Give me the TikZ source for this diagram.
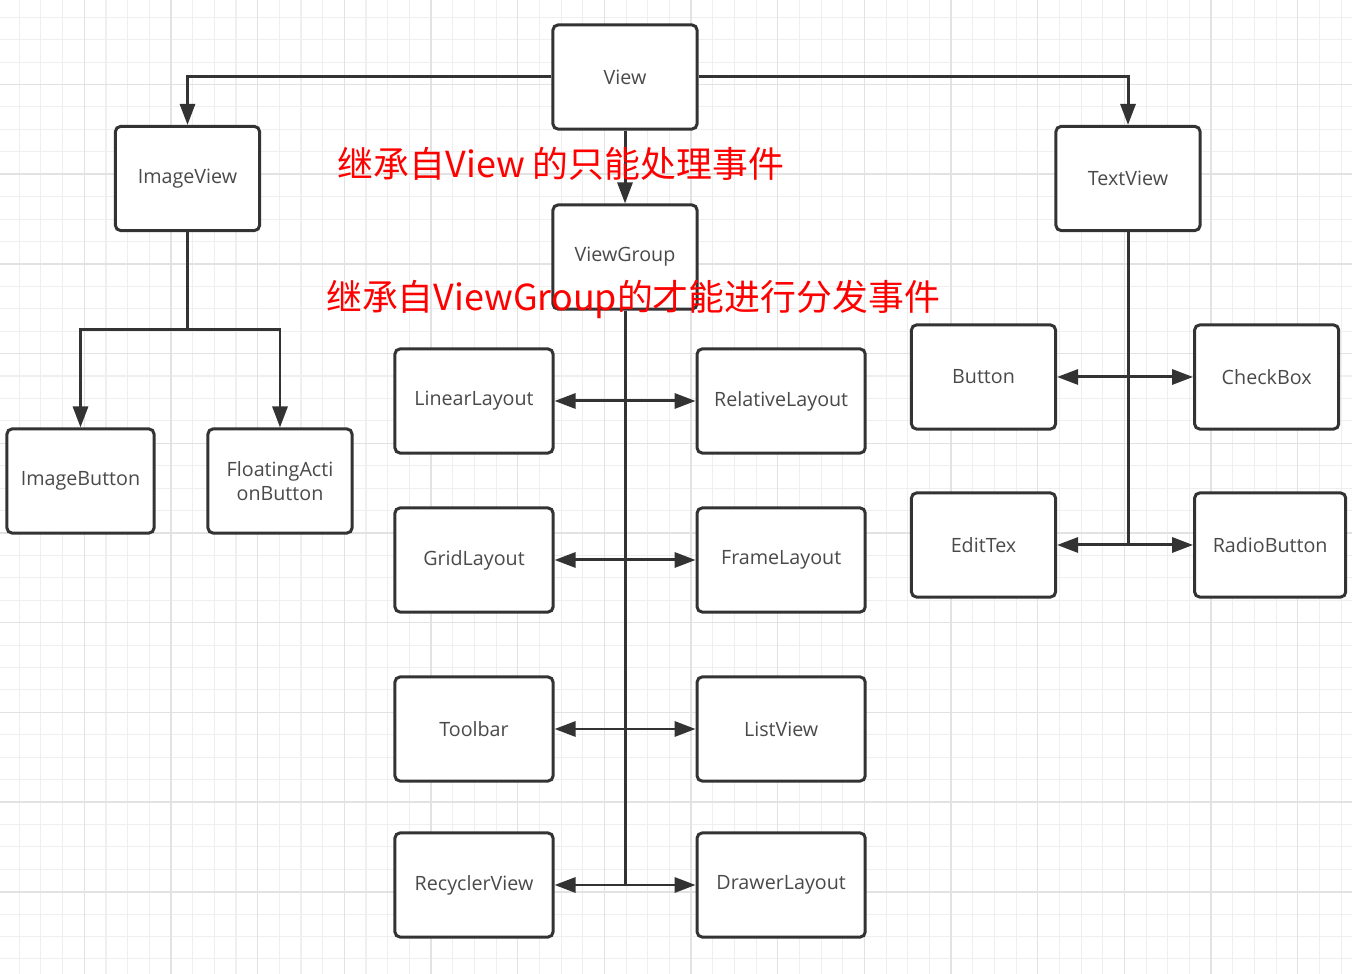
\documentclass[tikz,border=0pt]{standalone}
\usepackage{fontspec}
\setmainfont{Open Sans}
\newfontfamily\cjk{Noto Sans CJK SC}
\usetikzlibrary{arrows.meta,positioning}
\definecolor{edgegray}{HTML}{333333}
\definecolor{txtgray}{HTML}{4A4A4A}
\definecolor{gridmin}{HTML}{EFEFEF}
\definecolor{gridmaj}{HTML}{E2E2E2}
\tikzset{
    %Define standard arrow tip
    >={Triangle[length=2.1mm,width=1.5mm]},
    %Define style for boxes
    clbox/.style={
           rectangle, rounded corners=0.5mm,
           draw = edgegray, line width=0.85pt, fill=white,
           text = txtgray, align=center,
           font=\fontsize{5.6}{6.8}\selectfont,
           minimum height = 1.04cm, minimum width = 1.44cm,
           inner sep=0pt},
    wide/.style={minimum width = 1.58cm},
    wider/.style={minimum width = 1.68cm},
    % Define arrow style
    inh/.style={
           ->, draw=edgegray, line width=0.85pt},
    dbl/.style={
           <->, draw=edgegray, line width=0.85pt},
    trunk/.style={
           draw=edgegray, line width=0.85pt},
    hint/.style={
           text=red, inner sep=0pt,
           font=\cjk\fontsize{10.2}{12}\selectfont}
}
\begin{document}
\begin{tikzpicture}[x=0.01cm, y=-0.01cm]
\useasboundingbox (0,0) rectangle (1352,974);
\fill[white] (0,0) rectangle (1352,974);
 %grid
\foreach \i in {0,...,61}
    \draw[gridmin, line width=0.3pt] ({19.3+21.67*\i},0) -- ++(0,974);
\foreach \i in {0,...,42}
    \draw[gridmin, line width=0.3pt] (0,{17.3+22.42*\i}) -- ++(1352,0);
\foreach \i in {0,...,14}
    \draw[gridmaj, line width=0.45pt] ({84.3+86.67*\i},0) -- ++(0,974);
\foreach \i in {0,...,9}
    \draw[gridmaj, line width=0.45pt] (0,{84.6+89.68*\i}) -- ++(1352,0);
 %nodes
\node[clbox] (view) at (625,77) {View};
\node[clbox] (imgv) at (187.5,178.5) {ImageView};
\node[clbox] (txtv) at (1128,178.5) {TextView};
\node[clbox] (vgrp) at (625,257) {ViewGroup};
\node[clbox, minimum width = 1.47cm] (imgb) at (80.5,481) {ImageButton};
\node[clbox] (fab) at (280,481) {FloatingActi\\onButton};
\node[clbox, wide] (lin) at (474,401) {LinearLayout};
\node[clbox, wider, right = 1.41cm of lin] (rel) {RelativeLayout};
\node[clbox, wide] (grid) at (474,560) {GridLayout};
\node[clbox, wider, right = 1.41cm of grid] (frame) {FrameLayout};
\node[clbox, wide] (tool) at (474,729) {Toolbar};
\node[clbox, wider, right = 1.41cm of tool] (list) {ListView};
\node[clbox, wide] (recy) at (474,885) {RecyclerView};
\node[clbox, wider, right = 1.41cm of recy] (drawer) {DrawerLayout};
\node[clbox] (btn) at (983.5,377) {Button};
\node[clbox, right = 1.36cm of btn] (chk) {CheckBox};
\node[clbox] (edit) at (983.5,545) {EditTex};
\node[clbox, minimum width = 1.51cm, right = 1.36cm of edit] (radio) {RadioButton};
 %edges
\draw[inh] (view.west) -| (imgv.north);
\draw[inh] (view.east) -| (txtv.north);
\draw[inh] (view) -- (vgrp);
\coordinate (ivj) at (187.5,330);
\draw[trunk] (imgv) -- (ivj);
\draw[inh] (ivj) -| (imgb.north);
\draw[inh] (ivj) -| (fab.north);
\draw[trunk] (vgrp) -- (vgrp |- recy.east);
\draw[dbl] (lin) -- (rel);
\draw[dbl] (grid) -- (frame);
\draw[dbl] (tool) -- (list);
\draw[dbl] (recy) -- (drawer);
\draw[trunk] (txtv) -- (txtv |- edit.east);
\draw[dbl] (btn) -- (chk);
\draw[dbl] (edit) -- (radio);
 %notes
\node[hint] (viewnote) at (561,164) {继承自View 的只能处理事件};
\node[hint] (groupnote) at (633,299) {继承自ViewGroup的才能进行分发事件};
\end{tikzpicture}
\end{document}
